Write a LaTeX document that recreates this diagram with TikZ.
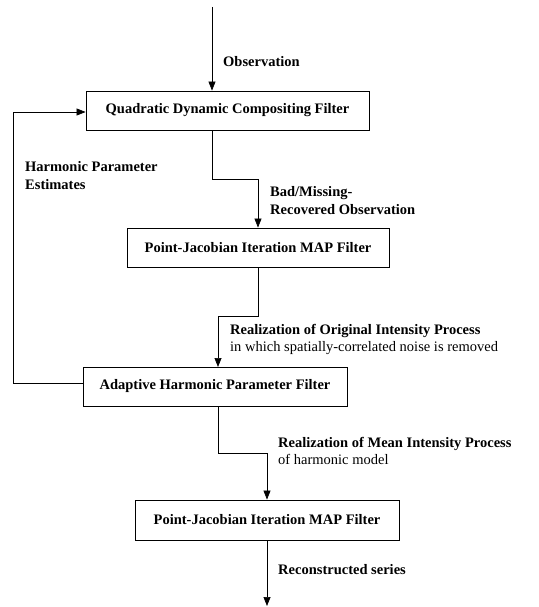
\documentclass[tikz,border=0pt]{standalone}
\usepackage{fontspec}
\setmainfont{Liberation Serif}
\usetikzlibrary{arrows.meta}

\tikzset{
  box/.style={draw, line width=0.9pt, minimum height=39pt, inner sep=0pt, font=\bfseries},
  lbl/.style={anchor=west, align=left, inner sep=0pt},
  flow/.style={line width=0.7pt, -{Triangle[length=9pt,width=7pt]}}
}

\begin{document}
\fontsize{14.5}{17.6}\selectfont
\begin{tikzpicture}[x=1pt, y=-1pt]
                \useasboundingbox (0,0) rectangle (538,607);
                \node[box, minimum width=283pt] (qdc) at (227.5,110.5) {Quadratic Dynamic Compositing Filter};
                \node[box, minimum width=262pt] (pjA) at (258,247.5) {Point-Jacobian Iteration MAP Filter};
                \node[box, minimum width=264pt] (ahp) at (215,386.5) {Adaptive Harmonic Parameter Filter};
                \node[box, minimum width=264pt, minimum height=40pt] (pjB) at (267,520) {Point-Jacobian Iteration MAP Filter};
                \coordinate (obsin) at (212,7);
                \coordinate (recout) at (267,606);
                \coordinate (fbk) at (13,383);
                \draw[flow] (obsin) -- (obsin |- qdc.north);
                \draw[flow] (obsin |- qdc.south) -- (212,179) -| (pjA.north);
                \draw[flow] (pjA.south) -- (258,316) -- (218,316) -- (218,367);
                \draw[flow] (218,406) -- (218,453) -| (pjB.north);
                \draw[flow] (pjB.south) -- (recout);
                \draw[flow] (ahp.west |- fbk) -- (fbk) |- (qdc.west |- 0,112);
                \node[lbl, font=\bfseries] (obs) at (223,62) {Observation};
                \node[lbl, font=\bfseries] (hpe) at (25,175.5) {Harmonic Parameter\\Estimates};
                \node[lbl, font=\bfseries] (bmr) at (270,200.5) {Bad/Missing-\\Recovered Observation};
                \node[lbl] (roi) at (230,339.5) {\textbf{Realization of Original Intensity Process}\\in which spatially-correlated noise is removed};
                \node[lbl] (rmi) at (278,451) {\textbf{Realization of Mean Intensity Process}\\of harmonic model};
                \node[lbl, font=\bfseries] (rcs) at (278,570) {Reconstructed series};
            \end{tikzpicture}
\end{document}
